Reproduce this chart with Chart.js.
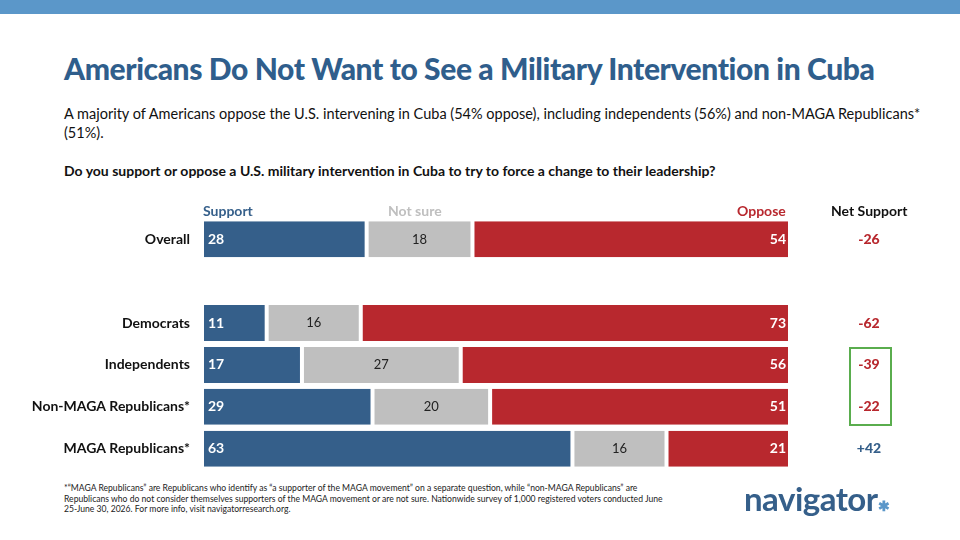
<!DOCTYPE html>
<html><head><meta charset="utf-8">
<script src="https://cdn.jsdelivr.net/npm/chart.js@4"></script>
<style>
body{margin:0;width:960px;height:540px;position:relative;font-family:Lato,"Open Sans",sans-serif;background:#fff;overflow:hidden}
.abs{position:absolute}
#stripe{left:0;top:0;width:960px;height:14px;background:#5b97c9}
#title{left:64px;top:50px;font-size:30px;font-weight:900;color:#2f5e8c;letter-spacing:-0.4px}
#sub{left:64px;top:104px;width:870px;font-size:14.5px;color:#111;line-height:19px}
#q{left:64px;top:162px;font-size:14px;font-weight:bold;color:#111}
.hd{top:202px;font-size:14px;font-weight:bold}
#foot{left:64px;top:483px;width:600px;font-size:8.6px;color:#222;line-height:10.5px}
#logo{left:744px;top:478px;font-size:33px;font-weight:bold;color:#355f8a;letter-spacing:-0.5px}
#box{left:849px;top:347px;width:39px;height:75px;border:2px solid #5aad4e}
canvas{position:absolute;left:0;top:206px}
</style></head><body>
<canvas id="c" width="960" height="276"></canvas>
<div id="stripe" class="abs"></div>
<div id="title" class="abs">Americans Do Not Want to See a Military Intervention in Cuba</div>
<div id="sub" class="abs">A majority of Americans oppose the U.S. intervening in Cuba (54% oppose), including independents (56%) and non-MAGA Republicans* (51%).</div>
<div id="q" class="abs">Do you support or oppose a U.S. military intervention in Cuba to try to force a change to their leadership?</div>
<div class="abs hd" style="left:203px;color:#355f8a">Support</div>
<div class="abs hd" style="left:388px;color:#bfbfbf">Not sure</div>
<div class="abs hd" style="left:737px;color:#b8282e">Oppose</div>
<div class="abs hd" style="left:831px;color:#111">Net Support</div>
<div id="box" class="abs"></div>
<div id="foot" class="abs">*“MAGA Republicans” are Republicans who identify as “a supporter of the MAGA movement” on a separate question, while “non-MAGA Republicans” are Republicans who do not consider themselves supporters of the MAGA movement or are not sure. Nationwide survey of 1,000 registered voters conducted June 25-June 30, 2026. For more info, visit navigatorresearch.org.</div>
<div id="logo" class="abs">navigator<span style="font-size:14px;color:#5b97c9">✱</span></div>
<script>
const categories = ['Overall', '', 'Democrats', 'Independents', 'Non-MAGA Republicans*', 'MAGA Republicans*'];
const support = [28, null, 11, 17, 29, 63];
const notSure = [18, null, 16, 27, 20, 16];
const oppose = [54, null, 73, 56, 51, 21];
const netSupport = ['-26', '', '-62', '-39', '-22', '+42'];

const labelPlugin = {
  id: 'labels',
  afterDatasetsDraw(chart) {
    const ctx = chart.ctx;
    ctx.save();
    ctx.textBaseline = 'middle';
    chart.data.datasets.forEach((ds, di) => {
      chart.getDatasetMeta(di).data.forEach((bar, i) => {
        if (ds.data[i] == null) return;
        if (di === 0) { ctx.fillStyle = '#fff'; ctx.font = 'bold 14px Lato'; ctx.textAlign = 'left'; ctx.fillText(ds.data[i], bar.base + 6, bar.y); }
        else if (di === 1) { ctx.fillStyle = '#222'; ctx.font = '13px Lato'; ctx.textAlign = 'center'; ctx.fillText(ds.data[i], (bar.base + bar.x) / 2, bar.y); }
        else { ctx.fillStyle = '#fff'; ctx.font = 'bold 14px Lato'; ctx.textAlign = 'right'; ctx.fillText(ds.data[i], bar.x - 4, bar.y); }
      });
    });
    const y = chart.scales.y;
    ctx.textAlign = 'center';
    ctx.font = '900 14px Lato';
    netSupport.forEach((v, i) => {
      if (!v) return;
      ctx.fillStyle = v[0] === '+' ? '#355f8a' : '#b8282e';
      ctx.fillText(v, 869, y.getPixelForValue(i));
    });
    ctx.restore();
  }
};

new Chart(document.getElementById('c'), {
  type: 'bar',
  data: {
    labels: categories,
    datasets: [
      { label: 'Support', data: support, backgroundColor: '#355f8a' },
      { label: 'Not sure', data: notSure, backgroundColor: '#bfbfbf' },
      { label: 'Oppose', data: oppose, backgroundColor: '#b8282e' }
    ]
  },
  options: {
    indexAxis: 'y',
    responsive: false,
    animation: false,
    layout: { padding: { right: 170, top: 0, bottom: 0, left: 0 } },
    datasets: { bar: { categoryPercentage: 0.86, barPercentage: 1, borderColor: '#fff', borderWidth: { left: 2, right: 2 }, borderSkipped: false } },
    plugins: { legend: { display: false }, tooltip: { enabled: false } },
    scales: {
      x: { stacked: true, min: 0, max: 100, display: false },
      y: {
        stacked: true,
        grid: { display: false }, border: { display: false },
        ticks: { color: '#111', font: { size: 14, weight: 'bold', family: 'Lato' }, padding: 4 },
        afterFit(s) { s.width = 202; }
      }
    }
  },
  plugins: [labelPlugin]
});
</script>
</body></html>
